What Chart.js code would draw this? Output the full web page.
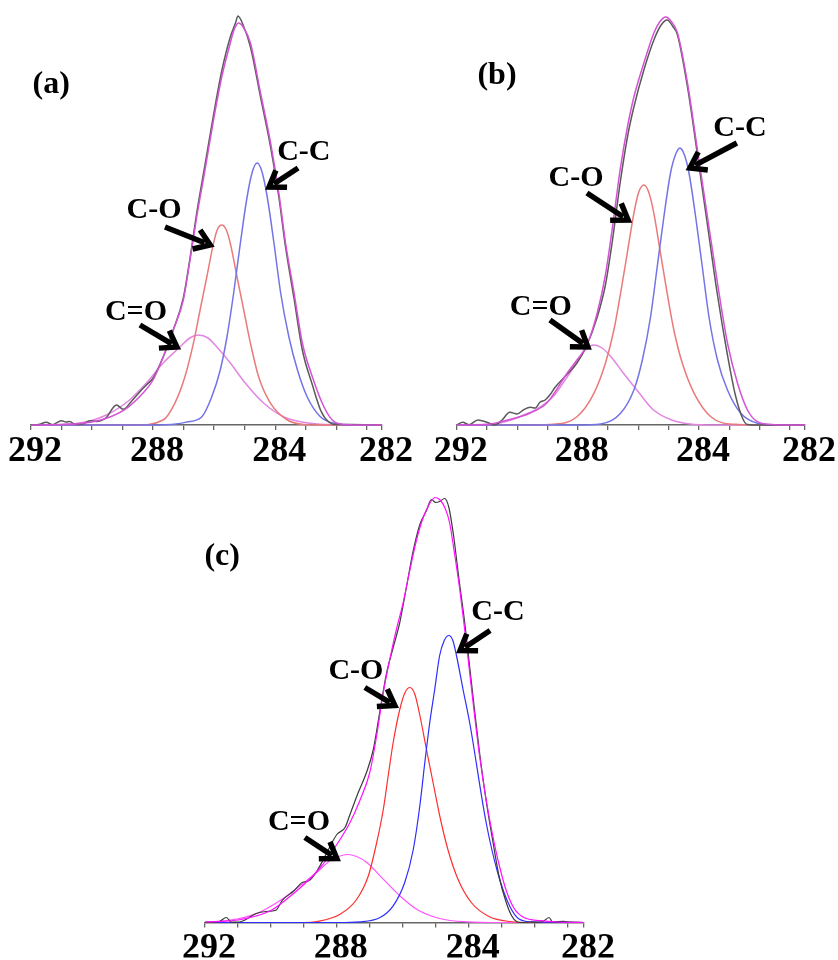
<!DOCTYPE html>
<html>
<head>
<meta charset="utf-8">
<title>C1s XPS fits</title>
<script src="https://cdn.jsdelivr.net/npm/chart.js@4.4.1/dist/chart.umd.min.js"></script>
<style>
  html, body { margin: 0; padding: 0; background: #fff; }
  body { width: 838px; height: 960px; position: relative; overflow: hidden; }
  canvas { position: absolute; }
  #chartA { left: 0; top: 0; }
  #chartB { left: 419px; top: 0; }
  #chartC { left: 160px; top: 480px; }
</style>
</head>
<body>
<canvas id="chartA" width="419" height="475"></canvas>
<canvas id="chartB" width="419" height="475"></canvas>
<canvas id="chartC" width="470" height="480"></canvas>
<script>
/* ================= AXIS ================= */
const tickValues = [292, 291, 290, 289, 288, 287, 286, 285, 284, 283, 282, 281, 280.5];
const labelValues = [292, 288, 284, 280.5];
const labelTexts = ["292", "288", "284", "282"];

/* ================= DATA (binding energy eV, intensity a.u.) ================= */
// panel (a)
const aRaw = [[292,0],[291.75,0.5],[291.5,2.7],[291.3,0.3],[291,4.3],[290.85,3],[290.73,3.5],[290.55,0.5],[290.3,1],[290.07,4.3],[289.85,3.5],[289.55,7],[289.2,20],[288.98,15.7],[288.7,24],[288.44,33],[288.22,40],[288,47],[287.67,68],[287.34,95],[287.01,127],[286.79,167],[286.57,212],[286.3,260],[286.02,310],[285.75,354],[285.47,388],[285.3,402],[285.22,409],[285.05,400],[284.81,378],[284.48,328],[284.15,278],[283.88,228],[283.66,178],[283.38,126],[283.11,75],[282.78,40],[282.5,14],[282.25,3],[282,0.5],[281.5,0.5],[281,0.3],[280.5,0]];
const aFit = [[292,0],[291,0.5],[290.29,1.7],[289.53,6.7],[288.87,16.7],[288.33,32],[288,45],[287.67,68],[287.34,95],[287.01,125],[286.79,165],[286.57,208],[286.3,255],[286.02,305],[285.75,348],[285.47,382],[285.35,395],[285.2,402],[285.05,398],[284.81,382],[284.48,332],[284.15,282],[283.88,232],[283.66,182],[283.38,132],[283.11,82],[282.78,48],[282.4,18],[282.07,3.3],[281.7,0.5],[281,0],[280.5,0]];
const aCC = [[292,0],[288,0],[287.25,1],[286.9,3],[286.41,8],[286.08,28],[285.8,55],[285.58,88],[285.36,132],[285.14,182],[284.92,228],[284.75,253],[284.59,262],[284.43,253],[284.26,228],[284.04,182],[283.82,132],[283.55,88],[283.27,55],[282.95,28],[282.51,8],[281.96,1],[281.5,0],[280.5,0]];
const aCO = [[292,0],[288.6,0],[287.67,5],[287.29,21.7],[286.96,48],[286.68,81.7],[286.46,115],[286.24,148],[286.02,181.7],[285.9,195],[285.75,200],[285.6,195],[285.47,181.7],[285.25,148],[285.03,115],[284.81,81.7],[284.54,48],[284.15,21.7],[283.6,5],[283.05,0.5],[282.5,0],[280.5,0]];
const aCdO = [[292,0],[291,0.5],[290.3,2.5],[289.53,10],[288.77,25],[288.22,42],[287.67,62],[287.12,78],[286.8,87],[286.52,90],[286.2,87],[285.91,78],[285.47,62],[284.98,42],[284.37,21.7],[283.71,8],[282.84,1.7],[282,0.3],[280.5,0]];

// panel (b)
const bRaw = [[292,0],[291.8,2.7],[291.6,0.3],[291.3,5],[291,2.7],[290.75,0],[290.5,5],[290.25,12.7],[290,11],[289.8,15],[289.57,17.7],[289.4,17],[289.25,22.7],[289.08,25],[288.9,31],[288.75,37.7],[288.45,47.7],[288.03,62],[287.7,80],[287.36,108],[287.09,140],[286.87,182],[286.59,245],[286.35,290],[286.15,318],[285.82,355],[285.49,385],[285.25,400],[285.05,405],[284.85,398],[284.71,390],[284.38,338],[284.05,270],[283.72,200],[283.39,130],[283.06,70],[282.8,30],[282.55,6],[282.4,0.5],[282,0],[280.5,0]];
const bFit = [[292,0],[291,0.5],[290.45,4],[289.57,12],[289.02,22],[288.8,31],[288.35,52],[288.03,65],[287.7,80],[287.36,112],[287.09,150],[286.87,195],[286.59,258],[286.35,300],[286.15,328],[285.82,362],[285.49,392],[285.3,403],[285.1,408],[284.9,403],[284.71,392],[284.38,342],[284.05,275],[283.72,208],[283.39,142],[283.06,82],[282.73,42],[282.4,15],[282.07,3.3],[281.6,0.5],[281,0],[280.5,0]];
const bCC = [[292,0],[288,0],[287.25,1],[286.59,11.7],[286.15,35],[285.87,65],[285.6,108],[285.38,158],[285.16,208],[284.94,252],[284.78,270],[284.63,277],[284.48,270],[284.33,252],[284.11,208],[283.89,158],[283.67,108],[283.39,65],[283.06,35],[282.62,11.7],[282.07,1.7],[281.5,0],[280.5,0]];
const bCO = [[292,0],[289.5,0],[288.8,0.7],[288.03,8.3],[287.47,31.7],[287.09,61.7],[286.81,95],[286.59,131.7],[286.37,171.7],[286.15,211.7],[286,232],[285.82,240],[285.65,232],[285.49,211.7],[285.27,171.7],[285.05,131.7],[284.83,95],[284.55,61.7],[284.16,31.7],[283.61,8.3],[282.84,0.7],[282,0],[280.5,0]];
const bCdO = [[292,0],[290.8,1],[290.2,5],[289.7,11],[289.2,19],[288.8,29],[288.4,46],[288,64],[287.75,75],[287.47,80],[287.2,77],[286.9,68],[286.5,52],[286,33],[285.5,15],[284.9,5],[284.3,1],[283.5,0],[280.5,0]];

// panel (c)
const cRaw = [[292,0],[291.6,0.5],[291.35,5],[291.2,0.3],[290.95,0.5],[290.8,2.3],[290.45,9],[290.15,11],[289.85,12.3],[289.65,22.3],[289.3,31.7],[289.05,40],[288.85,41.7],[288.6,51.7],[288.3,70],[288,88],[287.75,95],[287.6,108],[287.35,130],[287.1,150],[286.9,172],[286.7,210],[286.5,248],[286.29,275],[286.09,300],[285.89,335],[285.68,372],[285.48,398],[285.28,412],[285.13,423],[285,420],[284.88,421],[284.73,424],[284.6,415],[284.45,385],[284.3,345],[284.12,300],[283.97,256],[283.82,212],[283.67,170],[283.47,122],[283.27,82],[283.07,45],[282.86,20],[282.7,7],[282.55,1],[282.4,0],[282.1,0.5],[281.85,0.3],[281.7,2],[281.56,5],[281.45,0.5],[281.12,1.2],[280.9,0.3],[280.5,0]];
const cFit = [[292,0.5],[291,2.5],[290,12],[289.5,24],[289,38],[288.5,55],[288,78],[287.6,100],[287.3,122],[287,150],[286.8,185],[286.6,228],[286.4,262],[286.2,292],[286,318],[285.8,350],[285.6,380],[285.4,403],[285.2,418],[285.02,425],[284.85,422],[284.7,413],[284.58,400],[284.42,367],[284.27,333],[284.12,293],[283.97,250],[283.82,207],[283.67,167],[283.47,123],[283.27,87],[283.07,57],[282.85,31],[282.6,13],[282.32,5],[281.82,1.8],[281.3,0.5],[280.5,0]];
const cCC = [[292,0],[288,0],[287.3,0.7],[286.69,5],[286.29,16.7],[285.94,40],[285.68,73],[285.48,117],[285.33,160],[285.18,200],[285.03,233],[284.88,267],[284.74,282],[284.6,287],[284.48,282],[284.37,267],[284.17,233],[283.97,200],[283.47,100],[283.12,50],[282.76,16.7],[282.46,3.3],[282,0.5],[280.5,0]];
const cCO = [[292,0],[289,0],[288.6,1],[287.9,8.3],[287.4,23],[287.04,47],[286.79,80],[286.59,113],[286.44,147],[286.29,180],[286.09,213],[285.93,230],[285.78,235],[285.63,228],[285.48,207],[285.28,173],[285.08,140],[284.88,107],[284.63,73],[284.32,43],[283.92,20],[283.37,5.7],[282.76,1],[282,0],[280.5,0]];
const cCdO = [[292,0.3],[291.24,2.3],[290.43,9],[289.72,22],[289.11,37],[288.61,50],[288.2,62],[287.95,66],[287.68,68],[287.4,66],[287.09,60],[286.59,43.3],[286.09,26.7],[285.58,13.3],[284.88,4],[284.07,0.7],[283,0],[280.5,0]];

/* ================= LABELS / ARROWS (data coords) ================= */
const aNotes = [
  { text: "(a)", at: [291.34, 340], panel: true },
  { text: "C-C", at: [283.06, 273], from: [283.25, 257], to: [284.2, 238] },
  { text: "C-O", at: [287.97, 215], from: [287.61, 198], to: [286.13, 180] },
  { text: "C=O", at: [288.56, 113], from: [288.43, 100], to: [287.22, 78] }
];
const bNotes = [
  { text: "(b)", at: [290.67, 349], panel: true },
  { text: "C-C", at: [282.65, 297], from: [282.75, 282], to: [284.3, 257] },
  { text: "C-O", at: [288.06, 247], from: [287.7, 232], to: [286.34, 205] },
  { text: "C=O", at: [289.22, 118], from: [288.92, 105], to: [287.67, 78] }
];
const cNotes = [
  { text: "(c)", at: [291.48, 366], panel: true },
  { text: "C-C", at: [283.11, 310], from: [283.35, 292], to: [284.26, 272] },
  { text: "C-O", at: [287.42, 251], from: [287.15, 235], to: [286.24, 217] },
  { text: "C=O", at: [289.15, 100], from: [288.97, 85], to: [288.0, 64] }
];

/* ================= COLOURS ================= */
const paleColors = { fit: "#d452d4", raw: "#5a5a5a", cc: "#7474e6", co: "#ea7a7a", cdo: "#e286e2" };
const brightColors = { fit: "#ff10ff", raw: "#3a3a3a", cc: "#2e2eff", co: "#ff2e2e", cdo: "#ff55ff" };

/* ================= PLUGIN: labels + arrows ================= */
function drawArrow(ctx, x1, y1, x2, y2) {
  const ang = Math.atan2(y2 - y1, x2 - x1);
  const head = 18, spread = 0.6;
  ctx.lineWidth = 5.5;
  ctx.lineCap = "butt";
  ctx.lineJoin = "miter";
  ctx.beginPath();
  ctx.moveTo(x1, y1);
  ctx.lineTo(x2 - 6 * Math.cos(ang), y2 - 6 * Math.sin(ang));
  ctx.stroke();
  ctx.beginPath();
  ctx.moveTo(x2 - head * Math.cos(ang - spread), y2 - head * Math.sin(ang - spread));
  ctx.lineTo(x2, y2);
  ctx.lineTo(x2 - head * Math.cos(ang + spread), y2 - head * Math.sin(ang + spread));
  ctx.stroke();
}

const notesPlugin = {
  id: "notes",
  afterDatasetsDraw(chart, args, opts) {
    const { ctx, scales: { x, y } } = chart;
    ctx.save();
    ctx.fillStyle = "#000";
    ctx.strokeStyle = "#000";
    ctx.textAlign = "center";
    ctx.textBaseline = "middle";
    (opts.items || []).forEach(n => {
      ctx.font = n.panel ? "bold 32px 'Liberation Serif'" : "bold 30px 'Liberation Serif'";
      ctx.fillText(n.text, x.getPixelForValue(n.at[0]), y.getPixelForValue(n.at[1]));
      if (n.from) {
        drawArrow(ctx,
          x.getPixelForValue(n.from[0]), y.getPixelForValue(n.from[1]),
          x.getPixelForValue(n.to[0]), y.getPixelForValue(n.to[1]));
      }
    });
    ctx.restore();
  }
};

/* ================= CHART ================= */
function serie(pairs, color, width) {
  return {
    data: pairs.map(p => ({ x: p[0], y: p[1] })),
    borderColor: color,
    borderWidth: width,
    pointRadius: 0,
    fill: false,
    cubicInterpolationMode: "monotone",
    clip: false
  };
}

function montarPainel(id, curves, colors, notes, box) {
  const lw = box.lineWidth;
  return new Chart(document.getElementById(id), {
    type: "line",
    data: {
      datasets: [
        serie(curves.fit, colors.fit, lw),
        serie(curves.raw, colors.raw, lw),
        serie(curves.cc, colors.cc, lw),
        serie(curves.co, colors.co, lw),
        serie(curves.cdo, colors.cdo, lw)
      ]
    },
    options: {
      responsive: false,
      animation: false,
      events: [],
      layout: { padding: { left: box.left, right: box.right, top: 10, bottom: box.bottom } },
      plugins: {
        legend: { display: false },
        tooltip: { enabled: false },
        notes: { items: notes }
      },
      scales: {
        x: {
          type: "linear",
          reverse: true,
          min: 280.5,
          max: 292,
          afterBuildTicks: scale => { scale.ticks = tickValues.map(v => ({ value: v })); },
          afterFit: scale => { scale.height = box.axisHeight; },
          ticks: {
            autoSkip: false,
            maxRotation: 0,
            padding: 0,
            labelOffset: 4,
            color: "#000",
            font: { family: "'Liberation Serif'", size: 36, weight: "bold" },
            callback: v => {
              const i = labelValues.indexOf(v);
              return i >= 0 ? labelTexts[i] : "";
            }
          },
          grid: { drawOnChartArea: false, drawTicks: true, tickLength: 5, color: "#666", lineWidth: 1.3 },
          border: { display: true, color: "#666", width: 1.5 }
        },
        y: { display: false, min: 0, max: box.yMax }
      }
    },
    plugins: [notesPlugin]
  });
}

montarPainel("chartA",
  { fit: aFit, raw: aRaw, cc: aCC, co: aCO, cdo: aCdO }, paleColors, aNotes,
  { left: 31, right: 37, bottom: 5, axisHeight: 45, yMax: 415, lineWidth: 1.5 });

montarPainel("chartB",
  { fit: bFit, raw: bRaw, cc: bCC, co: bCO, cdo: bCdO }, paleColors, bNotes,
  { left: 37.7, right: 33, bottom: 5, axisHeight: 45, yMax: 415, lineWidth: 1.5 });

montarPainel("chartC",
  { fit: cFit, raw: cRaw, cc: cCC, co: cCO, cdo: cCdO }, brightColors, cNotes,
  { left: 45, right: 46, bottom: 2.5, axisHeight: 35, yMax: 432.5, lineWidth: 1.2 });
</script>
</body>
</html>
